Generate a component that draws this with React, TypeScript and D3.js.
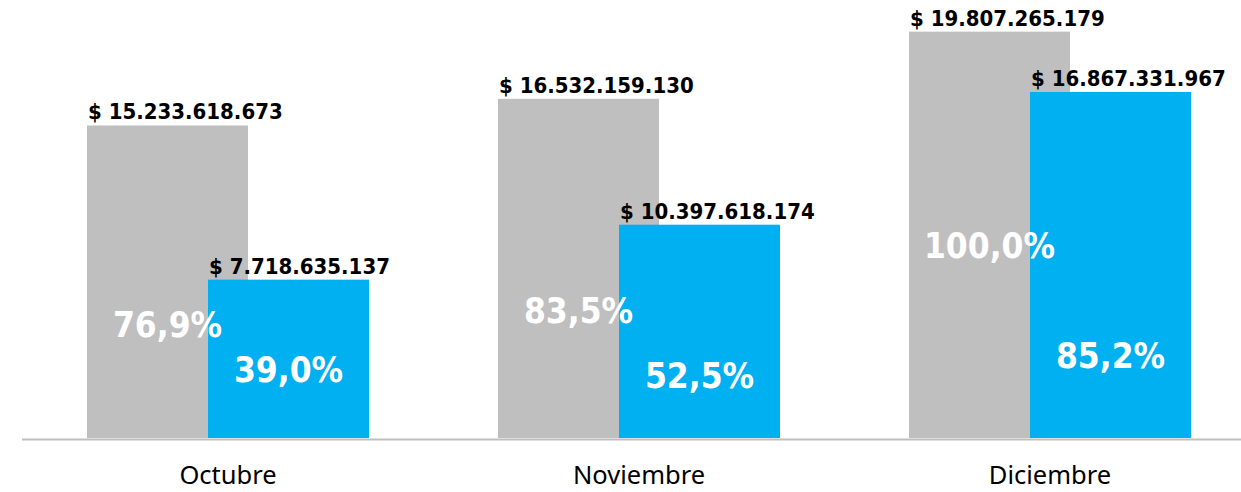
import { useEffect, useRef } from 'react';
import * as d3 from 'd3';

// Monthly figures (pesos); gray = first series, blue = second series
const months = ['Octubre', 'Noviembre', 'Diciembre'];
const grayValues = [15233618673, 16532159130, 19807265179];
const blueValues = [7718635137, 10397618174, 16867331967];
// reference used for the % labels (Diciembre gray = 100,0%)
const pctBase = 19807265179;
// level (in pesos) at which each % label sits
const grayPctLevel = [4.92e9, 5.61e9, 8.77e9];
const bluePctLevel = [2.73e9, 2.44e9, 3.41e9];

const COLORS = {
  gray: '#bfbfbf',
  blue: '#00b0f0',
  axis: '#bfbfbf',
  text: '#000000',
  pct: '#ffffff',
};

const W = 1241;
const H = 492;
const BOLD_FONT = '"DejaVu Sans Condensed", "DejaVu Sans", sans-serif';

const locale = d3.formatLocale({ decimal: ',', thousands: '.', grouping: [3], currency: ['$', ''] });
const fmtMoney = (v: number) => `$ ${locale.format(',d')(v)}`;
const fmtPct = (v: number) => `${(v * 100).toFixed(1).replace('.', ',')}%`;

export default function App() {
  const svgRef = useRef<SVGSVGElement | null>(null);

  useEffect(() => {
    document.body.style.margin = '0';
    if (!svgRef.current) return;
    const svg = d3.select(svgRef.current);
    svg.selectAll('*').remove();

    const baseline = 438;
    const x = d3.scaleBand<string>().domain(months).range([22.5, 1255.5]).padding(0);
    const y = d3.scaleLinear().domain([0, 21.35e9]).range([baseline, 0]);

    const barW = 161;
    const overlap = 40;
    const grayX = (m: string) => x(m)! + x.bandwidth() / 2 - (2 * barW - overlap) / 2;
    const blueX = (m: string) => grayX(m) + barW - overlap;

    const rows = months.map((m, i) => ({ m, gray: grayValues[i], blue: blueValues[i], gl: grayPctLevel[i], bl: bluePctLevel[i] }));

    // bars
    svg.append('g').selectAll('rect')
      .data(rows).join('rect')
      .attr('x', d => grayX(d.m)).attr('width', barW)
      .attr('y', d => y(d.gray)).attr('height', d => baseline - y(d.gray))
      .attr('fill', COLORS.gray);

    svg.append('g').selectAll('rect')
      .data(rows).join('rect')
      .attr('x', d => blueX(d.m)).attr('width', barW)
      .attr('y', d => y(d.blue)).attr('height', d => baseline - y(d.blue))
      .attr('fill', COLORS.blue);

    // axis line
    svg.append('line')
      .attr('x1', 22).attr('x2', W)
      .attr('y1', baseline + 1.5).attr('y2', baseline + 1.5)
      .attr('stroke', COLORS.axis).attr('stroke-width', 2);

    // category labels
    svg.append('g').selectAll('text')
      .data(months).join('text')
      .attr('x', d => x(d)! + x.bandwidth() / 2)
      .attr('y', 484)
      .attr('text-anchor', 'middle')
      .style('font-family', '"Noto Sans", "Open Sans", sans-serif')
      .style('font-size', '25.5px')
      .style('fill', COLORS.text)
      .text(d => d);

    // value labels
    const valueLabel = (key: 'gray' | 'blue', xf: (m: string) => number) =>
      svg.append('g').selectAll('text')
        .data(rows).join('text')
        .attr('x', d => xf(d.m) + 1)
        .attr('y', d => y(d[key]) - 6)
        .style('font-family', BOLD_FONT)
        .style('font-stretch', 'condensed')
        .style('font-weight', 'bold')
        .style('font-size', '22px')
        .style('fill', COLORS.text)
        .text(d => fmtMoney(d[key]));
    valueLabel('gray', grayX);
    valueLabel('blue', blueX);

    // percentage labels
    const pctLabel = (key: 'gray' | 'blue', lvl: 'gl' | 'bl', xf: (m: string) => number) =>
      svg.append('g').selectAll('text')
        .data(rows).join('text')
        .attr('x', d => xf(d.m) + barW / 2)
        .attr('y', d => y(d[lvl]))
        .attr('text-anchor', 'middle')
        .style('font-family', BOLD_FONT)
        .style('font-stretch', 'condensed')
        .style('font-weight', 'bold')
        .style('font-size', '35px')
        .style('fill', COLORS.pct)
        .text(d => fmtPct(d[key] / pctBase));
    pctLabel('gray', 'gl', grayX);
    pctLabel('blue', 'bl', blueX);
  }, []);

  return <svg ref={svgRef} width={W} height={H} style={{ display: 'block', background: '#fff' }} />;
}
